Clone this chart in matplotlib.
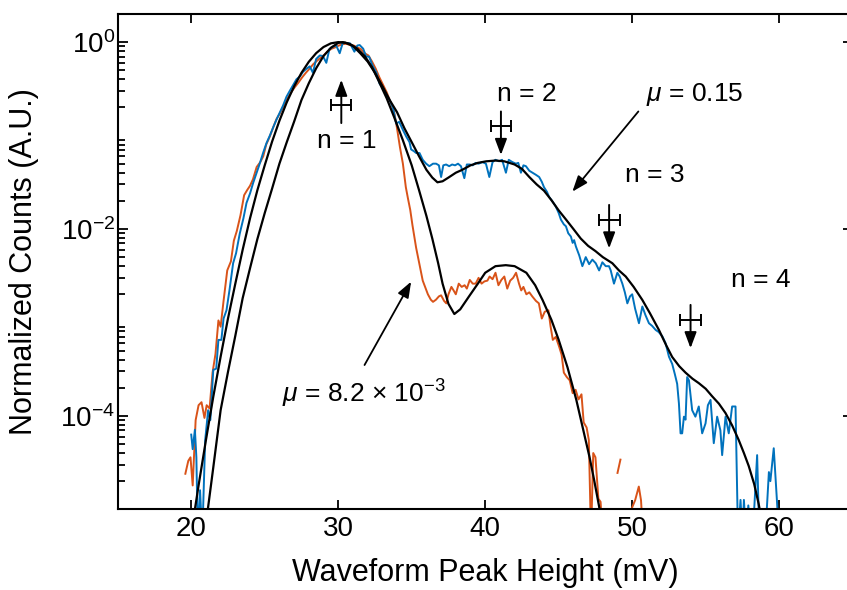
import numpy as np
import matplotlib
matplotlib.use('Agg')
import matplotlib.pyplot as plt

plt.rcParams['font.family'] = ['Liberation Sans', 'DejaVu Sans']
plt.rcParams['mathtext.fontset'] = 'custom'
plt.rcParams['mathtext.rm'] = 'Liberation Sans'
plt.rcParams['mathtext.it'] = 'Liberation Sans:italic'

BLUE = '#0072BD'
ORANGE = '#D95319'
LOW = 5e-6   # below the axis: the line drops off the bottom edge

# ---------------------------------------------------------------
# measured spectrum, mu = 0.15 (blue)
hi_x = [20.0, 20.1, 20.25, 20.35, 20.45, 20.6, 20.75, 20.95, 21.15, 21.3, 21.5, 21.7, 21.85,
        22.05, 22.2, 22.4, 22.6, 22.85, 23.05, 23.3, 23.55, 23.76, 24.0, 24.21, 24.45, 24.66,
        24.9, 25.12, 25.35, 25.6, 25.8, 26.05, 26.25, 26.48, 26.7, 26.95, 27.16, 27.4, 27.6,
        27.85, 28.06, 28.28, 28.5, 28.75, 28.96, 29.19, 29.4, 29.64, 29.85, 30.1, 30.3, 30.55,
        30.8, 31.1, 31.3, 31.46, 31.7, 31.9, 32.1, 32.36, 32.6, 32.81, 33.05, 33.26, 33.5,
        33.72, 33.94, 34.15, 34.4, 34.62, 34.85, 34.96, 35.15, 35.3, 35.53, 35.75, 35.98,
        36.2, 36.45, 36.66, 36.85, 37.0, 37.15, 37.34, 37.55, 37.75, 37.95, 38.15, 38.35,
        38.58, 38.75, 38.95, 39.15, 39.35, 39.55, 39.8, 40.05, 40.28, 40.5, 40.7, 40.95,
        41.15, 41.41, 41.6, 41.85, 42.09, 42.25, 42.43, 42.6, 42.77, 43.0, 43.22, 43.45,
        43.67, 43.85, 44.0, 44.2, 44.35, 44.55, 44.8, 45.0, 45.15, 45.35, 45.49, 45.65,
        45.83, 45.95, 46.05, 46.17, 46.4, 46.61, 46.84, 47.07, 47.29, 47.52, 47.75, 47.97,
        48.2, 48.42, 48.54, 48.76, 48.99, 49.15, 49.33, 49.5, 49.67, 49.85, 50.0, 50.2,
        50.46, 50.69, 50.9, 51.14, 51.35, 51.6, 51.8, 52.05, 52.27, 52.5, 52.72, 52.9,
        53.06, 53.18, 53.29, 53.4, 53.52, 53.63, 53.74, 53.86, 54.08, 54.3, 54.53, 54.76,
        54.99, 55.15, 55.33, 55.55, 55.78, 56.0, 56.12, 56.35, 56.57, 56.8, 57.03, 57.2,
        57.37, 57.5, 57.6, 57.75, 57.9, 58.1, 58.3, 58.5, 58.65, 59.05, 59.3, 59.4, 59.63,
        59.86, 60.0]
hi_y = [6.3e-5, 4.4e-5, 7.1e-5, 3.6e-5, LOW, 1.6e-5, LOW, 5.5e-5, 1.15e-4, 9e-5, 3.1e-4,
        3.2e-4, 6.5e-4, 6.5e-4, 1.1e-3, 1.35e-3, 2.2e-3, 4.3e-3, 5.5e-3, 8.9e-3, 1.3e-2,
        1.9e-2, 2.4e-2, 3.1e-2, 4.0e-2, 5.0e-2, 6.6e-2, 8.3e-2, 0.10, 0.125, 0.148, 0.18,
        0.21, 0.26, 0.30, 0.35, 0.40, 0.43, 0.48, 0.52, 0.55, 0.47, 0.66, 0.72, 0.71, 0.60,
        0.84, 0.89, 0.93, 0.76, 0.97, 0.98, 0.97, 0.79, 0.92, 0.93, 0.85, 0.70, 0.70, 0.55,
        0.47, 0.36, 0.32, 0.28, 0.24, 0.20, 0.135, 0.14, 0.115, 0.098, 0.085, 0.071, 0.068,
        0.065, 0.065, 0.055, 0.050, 0.047, 0.050, 0.050, 0.048, 0.036, 0.048, 0.049, 0.047,
        0.049, 0.048, 0.050, 0.047, 0.035, 0.049, 0.049, 0.048, 0.051, 0.050, 0.052, 0.050,
        0.036, 0.052, 0.055, 0.053, 0.055, 0.040, 0.055, 0.052, 0.050, 0.051, 0.040, 0.048,
        0.047, 0.042, 0.040, 0.038, 0.036, 0.032, 0.028, 0.025, 0.022, 0.020, 0.0174,
        0.0148, 0.0126, 0.0112, 0.0107, 0.0090, 0.0083, 0.0071, 0.0076, 0.0065, 0.0052,
        0.0040, 0.0050, 0.0042, 0.0047, 0.0043, 0.0036, 0.0044, 0.0040, 0.0040, 0.0036,
        0.0026, 0.0034, 0.0031, 0.0026, 0.0021, 0.0016, 0.0019, 0.0020, 0.0014, 9.8e-4,
        1.48e-3, 1.2e-3, 9.8e-4, 9.2e-4, 8.3e-4, 7.9e-4, 7.1e-4, 6.0e-4, 4.3e-4, 3.6e-4,
        2.8e-4, 2.2e-4, 1.35e-4, 6.5e-5, 6.5e-5, 9.8e-5, 9.1e-5, 2.6e-4, 2.4e-4, 1.15e-4,
        9.8e-5, 1.26e-4, 6.5e-5, 8.3e-5, 1.3e-4, 1.48e-4, 5.1e-5, 9.8e-5, 7.0e-5, 3.8e-5,
        9.8e-5, 6.5e-5, 1.26e-4, 1.26e-4, LOW, 1.26e-5, LOW, 1.26e-5, LOW, 1.1e-5, LOW,
        1.0e-5, 3.8e-5, LOW, LOW, 2.5e-5, 2.0e-5, 4.5e-5, 1.15e-5, LOW]

# measured spectrum, mu = 8.2e-3 (orange); nan = empty bin
lo_x = [19.6, 19.8, 19.95, 20.1, 20.3, 20.5, 20.7, 20.9, 21.05, 21.25, 21.45, 21.65, 21.85,
        22.0, 22.2, 22.45, 22.7, 22.9, 23.1, 23.35, 23.6, 23.8, 24.0, 24.2, 24.45, 24.7,
        24.9, 25.1, 25.35, 25.6, 25.8, 26.05, 26.3, 26.55, 26.8, 27.05, 27.3, 27.55, 27.8,
        28.05, 28.3, 28.55, 28.8, 29.05, 29.3, 29.55, 29.8, 30.05, 30.3, 30.55, 30.8, 31.05,
        31.3, 31.55, 31.8, 32.05, 32.3, 32.55, 32.8, 33.05, 33.3, 33.55, 33.8, 34.0, 34.2,
        34.4, 34.6, 34.75, 34.9, 35.05, 35.3, 35.55, 35.75, 35.95, 36.1, 36.3, 36.45, 36.65,
        36.85, 37.0, 37.2, 37.35, 37.5, 37.7, 37.85, 38.0, 38.2, 38.4, 38.6, 38.75, 38.95,
        39.15, 39.35, 39.55, 39.75, 39.95, 40.15, 40.3, 40.5, 40.7, 40.9, 41.1, 41.3, 41.5,
        41.7, 41.9, 42.1, 42.3, 42.45, 42.6, 42.8, 43.0, 43.2, 43.45, 43.65, 43.85, 44.05,
        44.3, 44.45, 44.6, 44.8, 45.03, 45.2, 45.35, 45.55, 45.75, 45.95, 46.15, 46.35,
        46.55, 46.7, 46.9, 47.05, 47.2, 47.35, 47.5, 47.7, 47.85, 48.0, 48.2, 48.8, 49.0,
        49.2, 49.4, 49.8, 50.0, 50.2, 50.45, 50.6, 50.75]
lo_y = [2.4e-5, 3.3e-5, 3.6e-5, 1.8e-5, 9.0e-5, 1.3e-4, 1.4e-4, 9.5e-5, 1.3e-4, 1.2e-4,
        2.9e-4, 4.6e-4, 1.05e-3, 9.0e-4, 1.7e-3, 3.6e-3, 4.5e-3, 7.5e-3, 9.5e-3, 1.4e-2,
        2.3e-2, 2.6e-2, 2.9e-2, 3.4e-2, 4.6e-2, 5.2e-2, 6.0e-2, 8.0e-2, 9.8e-2, 0.125, 0.15,
        0.175, 0.21, 0.25, 0.29, 0.33, 0.37, 0.42, 0.47, 0.52, 0.58, 0.63, 0.68, 0.73, 0.80,
        0.85, 0.88, 0.92, 0.95, 0.96, 0.93, 0.92, 0.88, 0.84, 0.76, 0.72, 0.62, 0.52, 0.42,
        0.35, 0.29, 0.23, 0.18, 0.12, 0.075, 0.05, 0.028, 0.021, 0.016, 0.011, 6.3e-3,
        4.0e-3, 2.8e-3, 2.3e-3, 2.0e-3, 1.75e-3, 1.66e-3, 1.75e-3, 1.9e-3, 1.95e-3, 1.7e-3,
        1.6e-3, 2.0e-3, 2.4e-3, 2.2e-3, 2.0e-3, 2.6e-3, 2.4e-3, 2.5e-3, 2.3e-3, 2.85e-3,
        2.6e-3, 2.6e-3, 3.0e-3, 2.6e-3, 2.75e-3, 2.8e-3, 3.1e-3, 2.9e-3, 3.4e-3, 2.5e-3,
        2.85e-3, 3.1e-3, 2.3e-3, 2.8e-3, 3.0e-3, 3.4e-3, 2.6e-3, 2.2e-3, 2.4e-3, 2.0e-3,
        2.1e-3, 1.9e-3, 1.7e-3, 1.6e-3, 1.1e-3, 1.3e-3, 1.35e-3, 9e-4, 6.5e-4, 7.0e-4,
        5.5e-4, 4.5e-4, 2.9e-4, 2.6e-4, 2.4e-4, 1.75e-4, 1.9e-4, 1.5e-4, 1.7e-4, 8.5e-5,
        7.5e-5, 5.5e-5, LOW, 4.0e-5, 3.6e-5, 1.3e-5, 1.2e-5, LOW, np.nan, np.nan, 2.45e-5,
        3.4e-5, np.nan, LOW, 1.05e-5, 1.25e-5, 1.75e-5, 1.25e-5, LOW]

# model fit, mu = 0.15
fit_hi_x = [20.25, 20.5, 21.0, 21.5, 22.0, 22.5, 23.0, 23.5, 24.0, 24.5, 25.0, 25.5, 26.0,
            26.5, 27.0, 27.5, 28.0, 28.5, 29.0, 29.5, 30.0, 30.5, 31.0, 31.5, 32.0, 32.5,
            33.0, 33.5, 34.0, 34.5, 35.0, 35.5, 36.0, 36.4, 36.75, 37.1, 37.5, 38.0, 38.44,
            39.0, 39.5, 40.07, 40.7, 41.3, 42.0, 42.5, 43.0, 43.5, 44.0, 44.5, 45.0, 45.5,
            46.0, 46.5, 47.0, 47.5, 48.0, 48.65, 49.1, 49.56, 50.1, 50.69, 51.2, 51.82, 52.3,
            52.72, 53.2, 53.63, 54.1, 54.53, 55.0, 55.44, 55.9, 56.35, 56.8, 57.25, 57.6,
            57.93, 58.3, 58.6, 58.7]
fit_hi_y = [1.0e-5, 1.8e-5, 5.5e-5, 1.6e-4, 4.3e-4, 1.1e-3, 2.6e-3, 6.0e-3, 1.3e-2, 2.6e-2,
            4.8e-2, 8.6e-2, 0.144, 0.227, 0.336, 0.469, 0.616, 0.762, 0.886, 0.97, 1.0, 0.985,
            0.91, 0.76, 0.62, 0.47, 0.34, 0.24, 0.178, 0.12, 0.085, 0.060, 0.043, 0.0355,
            0.0316, 0.0324, 0.0355, 0.040, 0.043, 0.048, 0.051, 0.053, 0.054, 0.053, 0.049,
            0.044, 0.036, 0.030, 0.0257, 0.0204, 0.0158, 0.0126, 0.0100, 0.0079, 0.0066,
            0.0058, 0.0050, 0.0043, 0.0036, 0.0031, 0.0024, 1.74e-3, 1.26e-3, 8.3e-4, 5.75e-4,
            4.27e-4, 3.4e-4, 2.9e-4, 2.5e-4, 2.24e-4, 1.95e-4, 1.62e-4, 1.35e-4, 1.07e-4,
            7.9e-5, 5.5e-5, 4.0e-5, 2.9e-5, 1.86e-5, 1.15e-5, 9.5e-6]

# model fit, mu = 8.2e-3
fit_lo_x = [21.13, 21.5, 22.0, 22.5, 23.0, 23.5, 24.0, 24.5, 25.0, 25.5, 26.0, 26.5, 27.0,
            27.5, 28.0, 28.5, 29.0, 29.5, 30.0, 30.3, 30.8, 31.3, 31.8, 32.3, 32.8, 33.3,
            33.8, 34.4, 35.0, 35.5, 36.0, 36.4, 36.8, 37.1, 37.5, 37.9, 38.3, 38.9, 39.5,
            40.0, 40.7, 41.4, 42.0, 42.8, 43.4, 43.9, 44.5, 45.0, 45.6, 46.2, 46.6, 47.1,
            47.4, 47.75, 47.8]
fit_lo_y = [1.0e-5, 2.8e-5, 1.15e-4, 2.95e-4, 7.2e-4, 1.82e-3, 3.8e-3, 7.8e-3, 0.0148, 0.027,
            0.050, 0.085, 0.141, 0.24, 0.363, 0.525, 0.71, 0.87, 0.98, 1.0, 0.955, 0.85, 0.71,
            0.54, 0.37, 0.25, 0.158, 0.089, 0.048, 0.026, 0.0138, 7.9e-3, 4.3e-3, 2.6e-3,
            1.58e-3, 1.23e-3, 1.38e-3, 1.9e-3, 2.6e-3, 3.4e-3, 4.0e-3, 4.1e-3, 4.0e-3, 3.4e-3,
            2.5e-3, 1.74e-3, 1.07e-3, 6.5e-4, 3.3e-4, 1.48e-4, 7.9e-5, 3.6e-5, 2.1e-5,
            1.07e-5, 9.5e-6]

# n-photon peak markers: centre, horizontal error, bar height, arrow start / tip
peak_labels = ['n = 1', 'n = 2', 'n = 3', 'n = 4']
peak_x = [30.21, 41.07, 48.43, 53.97]
peak_xerr = [0.68, 0.70, 0.72, 0.72]
peak_bar_y = [0.213, 0.127, 0.0125, 1.06e-3]
peak_arrow_from = [0.136, 0.181, 0.0181, 1.54e-3]
peak_arrow_to = [0.395, 0.062, 6.2e-3, 5.3e-4]
peak_text_x = [30.55, 42.83, 51.55, 58.72]
peak_text_y = [0.0877, 0.281, 0.038, 2.85e-3]

ARROW = '-|>,head_length=0.8,head_width=0.3'

# ---------------------------------------------------------------
fig = plt.figure(figsize=(8.47, 5.90), dpi=100)
ax = fig.add_axes([0.1390, 0.1368, 0.8677, 0.8395])

ax.plot(lo_x, lo_y, color=ORANGE, lw=1.4)
ax.plot(hi_x, hi_y, color=BLUE, lw=1.4)
ax.plot(fit_hi_x, fit_hi_y, color='k', lw=1.6)
ax.plot(fit_lo_x, fit_lo_y, color='k', lw=1.6)

ax.set_yscale('log')
ax.set_xlim(15, 65)
ax.set_ylim(1e-5, 2.0)

ax.errorbar(peak_x, peak_bar_y, xerr=peak_xerr, fmt='none', ecolor='k',
            elinewidth=1.4, capsize=4, capthick=1.4)
for i in range(len(peak_x)):
    ax.annotate('', xy=(peak_x[i], peak_arrow_to[i]), xytext=(peak_x[i], peak_arrow_from[i]),
                arrowprops=dict(arrowstyle=ARROW, color='k', lw=1.4,
                                shrinkA=0, shrinkB=0, mutation_scale=12))
    ax.text(peak_text_x[i], peak_text_y[i], peak_labels[i], fontsize=19,
            ha='center', va='center')

# mu = 0.15 label and its arrow
ax.text(54.25, 0.273, r'$\mu$ = 0.15', fontsize=19, ha='center', va='center')
ax.annotate('', xy=(45.93, 0.0251), xytext=(50.42, 0.181),
            arrowprops=dict(arrowstyle=ARROW, color='k', lw=1.3,
                            shrinkA=0, shrinkB=0, mutation_scale=12))
# mu = 8.2e-3 label and its arrow
ax.annotate('', xy=(34.96, 2.73e-3), xytext=(31.79, 3.5e-4),
            arrowprops=dict(arrowstyle=ARROW, color='k', lw=1.3,
                            shrinkA=0, shrinkB=0, mutation_scale=12))
ax.text(26.2, 1.37e-4, r'$\mu$ = 8.2 $\times$ 10$^{-3}$', fontsize=19,
        ha='left', va='baseline')

ax.set_xticks([20, 30, 40, 50, 60])
ax.set_yticks([1e0, 1e-2, 1e-4])
ax.set_yticklabels([r'$\mathregular{10^{0}}$', r'$\mathregular{10^{-2}}$',
                    r'$\mathregular{10^{-4}}$'])
ax.tick_params(which='both', direction='in', top=True, right=True, labelsize=20,
               width=1.3)
ax.tick_params(axis='x', which='major', length=6.5, pad=4.5)
ax.tick_params(axis='y', which='major', length=7, pad=2)
ax.tick_params(axis='y', which='minor', length=5, right=False)
ax.tick_params(axis='x', which='minor', bottom=False, top=False)
for s in ax.spines.values():
    s.set_linewidth(1.5)

ax.set_xlabel('Waveform Peak Height (mV)', fontsize=22)
ax.set_ylabel('Normalized Counts (A.U.)', fontsize=22)
ax.xaxis.set_label_coords(0.5, -0.098)
ax.yaxis.set_label_coords(-0.107, 0.5)

fig.savefig('out.png', dpi=100)
